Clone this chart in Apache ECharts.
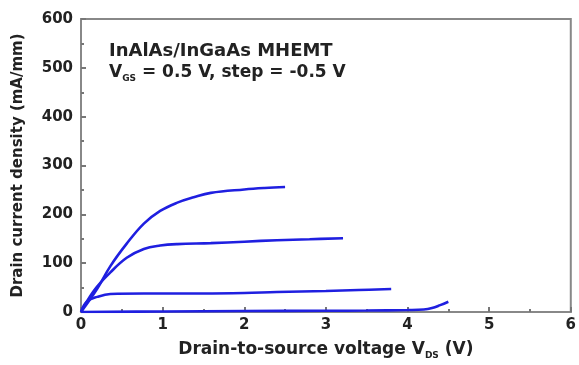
<!DOCTYPE html>
<html>
<head>
<meta charset="utf-8">
<script src="https://cdn.jsdelivr.net/npm/echarts@6/dist/echarts.min.js"></script>
<style>html,body{margin:0;padding:0;background:#fff;}#c{width:579px;height:365px;}</style>
</head>
<body>
<div id="c"></div>
<script>
// Drain current curves, VGS = 0.5, 0, -0.5, -1.0 V
var vds1 = [0, 0.2, 0.36, 0.56, 0.77, 0.97, 1.18, 1.38, 1.59, 2.0, 2.25, 2.5];
var id1  = [0, 48, 94, 140, 181, 207, 224, 235, 244, 251, 254, 256];
var vds2 = [0, 0.16, 0.36, 0.56, 0.77, 0.97, 1.18, 1.59, 2.0, 2.4, 2.8, 3.21];
var id2  = [0, 44, 81, 111, 129, 136, 139, 141, 144, 147, 149, 151];
var vds3 = [0, 0.07, 0.2, 0.36, 0.77, 1.5, 2.0, 2.4, 3.0, 3.4, 3.8];
var id3  = [0, 21, 31, 37, 38, 38, 39, 41, 43, 45, 47];
var vds4 = [0, 1.0, 2.0, 3.0, 3.5, 4.0, 4.2, 4.3, 4.4, 4.5];
var id4  = [0, 1, 2, 2.5, 3, 4, 5, 8, 14, 21];
var xTicks = [0, 1, 2, 3, 4, 5, 6];
var yTicks = [0, 100, 200, 300, 400, 500, 600];

function pts(xs, ys) { return xs.map(function (x, i) { return [x, ys[i]]; }); }

var FONT = 'DejaVu Sans';
var chart = echarts.init(document.getElementById('c'));
var lineStyle = { color: '#1f1fe0', width: 2.6 };
function mk(xs, ys) {
  return { type: 'line', data: pts(xs, ys), smooth: 0.4, showSymbol: false, lineStyle: lineStyle };
}
chart.setOption({
  animation: false,
  grid: { left: 81, right: 8, top: 19, bottom: 47, show: true, borderColor: '#888', borderWidth: 2 },
  xAxis: {
    type: 'value', min: xTicks[0], max: xTicks[xTicks.length - 1], interval: 1,
    axisLine: { lineStyle: { color: '#888', width: 2 } },
    axisTick: { inside: true, length: 5, lineStyle: { color: '#777', width: 2 } },
    minorTick: { show: true, splitNumber: 2, length: 3, lineStyle: { color: '#777', width: 2 } },
    splitLine: { show: false },
    axisLabel: { color: '#222', fontFamily: FONT, fontWeight: 'bold', fontSize: 15, margin: 6 },
    name: 'Drain-to-source voltage V{sub|DS} (V)',
    nameLocation: 'middle', nameGap: 27,
    nameTextStyle: {
      color: '#222', fontFamily: FONT, fontWeight: 'bold', fontSize: 17,
      rich: { sub: { fontFamily: FONT, fontWeight: 'bold', fontSize: 9, color: '#222', padding: [12, 0, 0, 0] } }
    }
  },
  yAxis: {
    type: 'value', min: yTicks[0], max: yTicks[yTicks.length - 1], interval: 100,
    axisLine: { show: true, lineStyle: { color: '#888', width: 2 } },
    axisTick: { show: true, inside: true, length: 5, lineStyle: { color: '#777', width: 2 } },
    minorTick: { show: true, splitNumber: 2, length: 3, lineStyle: { color: '#777', width: 2 } },
    splitLine: { show: false },
    axisLabel: { color: '#222', fontFamily: FONT, fontWeight: 'bold', fontSize: 15, margin: 8 },
    name: 'Drain current density (mA/mm)',
    nameLocation: 'middle', nameGap: 55,
    nameTextStyle: { color: '#222', fontFamily: FONT, fontWeight: 'bold', fontSize: 15 }
  },
  series: [mk(vds1, id1), mk(vds2, id2), mk(vds3, id3), mk(vds4, id4)],
  graphic: [
    { type: 'text', left: 109, top: 42, style: { text: 'InAlAs/InGaAs MHEMT', font: 'bold 18px "DejaVu Sans"', fill: '#222' } },
    { type: 'text', left: 109, top: 64, style: {
        text: 'V{sub|GS} = 0.5 V, step = -0.5 V', font: 'bold 17px "DejaVu Sans"', fill: '#222',
        rich: { sub: { font: 'bold 9px "DejaVu Sans"', fill: '#222', padding: [12, 0, 0, 0] } }
    } }
  ]
});
</script>
</body>
</html>
